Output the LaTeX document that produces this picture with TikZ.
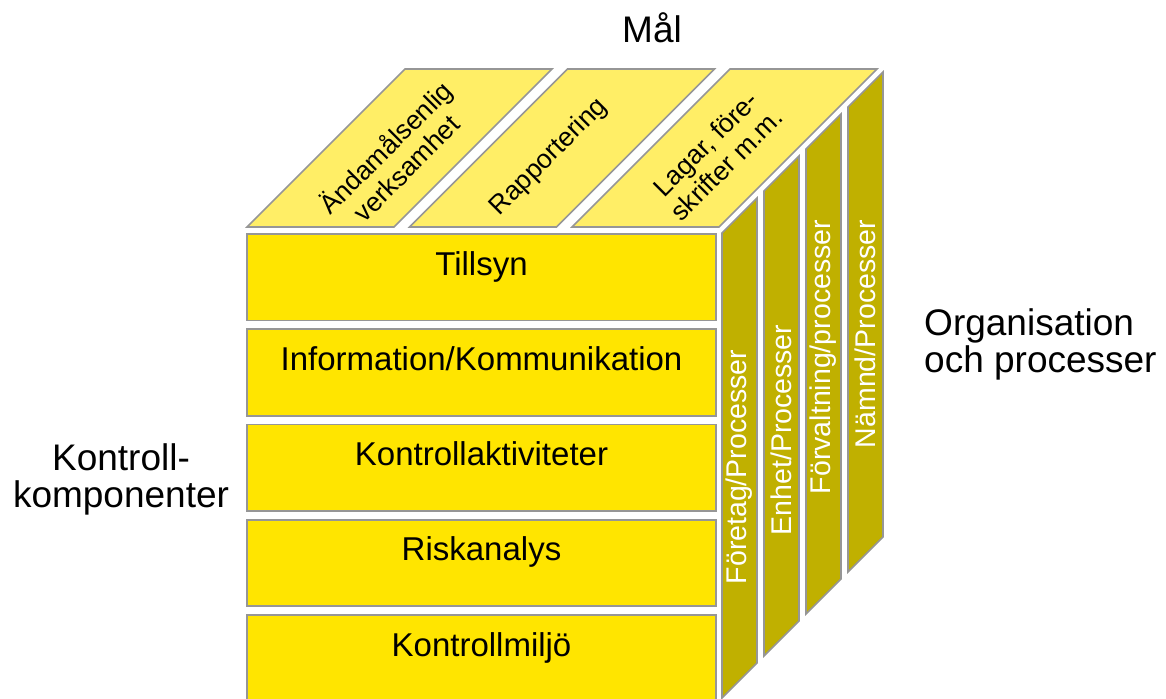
\documentclass[tikz,border=0pt]{standalone}
\usepackage{fontspec}
\setmainfont{Liberation Sans}
\definecolor{frontyellow}{RGB}{255,229,0}
\definecolor{topyellow}{RGB}{255,238,102}
\definecolor{sideolive}{RGB}{192,176,0}
\definecolor{outlinegray}{RGB}{150,150,150}
\begin{document}
\begin{tikzpicture}[x=1pt,y=-1pt,
  outline/.style={draw=outlinegray, line width=1.6pt, line join=miter},
  frontbox/.style={outline, fill=frontyellow},
  topface/.style={outline, fill=topyellow},
  sidebar/.style={outline, fill=sideolive},
  fronttext/.style={font=\fontsize{33}{36}\selectfont, anchor=base, inner sep=0pt},
  toptext/.style={font=\fontsize{26.5}{29.5}\selectfont, align=center, rotate=45, inner sep=0pt},
  sidetext/.style={font=\fontsize{28.5}{30}\selectfont, text=white, rotate=90, inner sep=0pt},
  biglabel/.style={font=\fontsize{37}{37}\selectfont, inner sep=0pt}
]
\useasboundingbox (0,0) rectangle (1166,698);

% front face rows
\draw[frontbox] (247,234) rectangle (716,320.5);
\draw[frontbox] (247,329.25) rectangle (716,415.75);
\draw[frontbox] (247,424.5) rectangle (716,511);
\draw[frontbox] (247,519.75) rectangle (716,606.25);
\draw[frontbox] (247,615) rectangle (716,703);
\node[fronttext] (tillsyn) at (481.5,275) {Tillsyn};
\node[fronttext] (info) at (481.5,370.25) {Information/Kommunikation};
\node[fronttext] (kakt) at (481.5,465.5) {Kontrollaktiviteter};
\node[fronttext] (risk) at (481.5,560.75) {Riskanalys};
\node[fronttext] (kmiljo) at (481.5,656) {Kontrollmiljö};

% top face
\draw[topface] (247,227) -- (394,227) -- (552,69) -- (405,69) -- cycle;
\draw[topface] (409.5,227) -- (556.5,227) -- (714.5,69) -- (567.5,69) -- cycle;
\draw[topface] (572,227) -- (719,227) -- (877,69) -- (730,69) -- cycle;
\node[toptext] (andam) at (395,157) {Ändamålsenlig\\verksamhet};
\node[toptext] (rapp) at (549,157) {Rapportering};
\node[toptext] (lagar) at (716,154) {Lagar, före-\\skrifter m.m.};

% side bars
\foreach \i in {0,1,2,3}{
  \draw[sidebar] (722+42*\i,233-42*\i) -- (757+42*\i,198-42*\i)
     -- (757+42*\i,663-42*\i) -- (722+42*\i,698-42*\i) -- cycle;
}
\node[sidetext] (foretag) at (739.5,467) {Företag/Processer};
\node[sidetext] (enhet) at (781.5,430) {Enhet/Processer};
\node[sidetext] (forvalt) at (823.5,357) {Förvaltning/processer};
\node[sidetext] (namnd) at (865.5,334) {Nämnd/Processer};

% outer labels
\node[biglabel, anchor=base] (mal) at (652,43) {Mål};
\node[biglabel, anchor=base] (kontroll) at (121,470)
  {\begin{tabular}[t]{@{}c@{}}Kontroll-\\komponenter\end{tabular}};
\node[biglabel, anchor=base west] (org) at (924,335)
  {\begin{tabular}[t]{@{}l@{}}Organisation\\och processer\end{tabular}};
\end{tikzpicture}
\end{document}
